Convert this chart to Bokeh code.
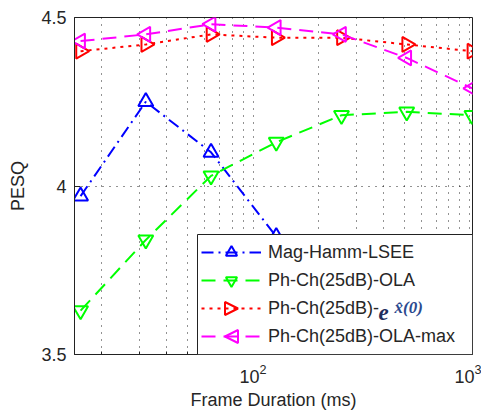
import math
from bokeh.plotting import figure
from bokeh.models import (Range1d, FixedTicker, Legend, LegendItem, Label, Arrow, NormalHead,
                          BoxAnnotation)
from bokeh.embed import file_html
from bokeh.resources import INLINE

# ---- data ----
frame_ms = [16, 32, 64, 128, 256, 512, 1024]
mag_hamm_x = [16, 32, 64, 128]
mag_hamm_lsee = [3.97, 4.25, 4.10, 3.85]
ph_ola = [3.63, 3.84, 4.03, 4.13, 4.21, 4.22, 4.21]
ph_ex0 = [4.40, 4.42, 4.45, 4.44, 4.44, 4.42, 4.40]
ph_ola_max = [4.43, 4.45, 4.48, 4.47, 4.45, 4.38, 4.29]

y_ticks = [3.5, 4.0, 4.5]
y_tick_labels = ["3.5", "4", "4.5"]
x_major_ticks = [100, 1000]
legend_labels = ["Mag-Hamm-LSEE", "Ph-Ch(25dB)-OLA", "Ph-Ch(25dB)- ", "Ph-Ch(25dB)-OLA-max"]

FONT = "Liberation Sans"
TXT = "#262626"

# layout (pixels)
W, H = 481, 412
FL, FT, FR, FB = 74, 17, 472, 354
X0, X1, Y0, Y1 = 15, 1030, 3.5, 4.5

p = figure(width=W, height=H, x_axis_type="log",
           x_range=Range1d(X0, X1), y_range=Range1d(Y0, Y1),
           output_backend="svg", toolbar_location=None,
           min_border_left=FL, min_border_top=FT, min_border_right=W - FR,
           min_border_bottom=H - FB)
p.background_fill_color = "white"
p.border_fill_color = "white"
p.outline_line_color = "#222222"
p.outline_line_width = 1

# axes
x_minor = [m * 10 ** e for e in (1, 2) for m in range(2, 10) if X0 <= m * 10 ** e <= X1]
p.xaxis.ticker = FixedTicker(ticks=x_major_ticks, minor_ticks=x_minor)
p.yaxis.ticker = FixedTicker(ticks=y_ticks, minor_ticks=[])
p.yaxis.major_label_overrides = {t: s for t, s in zip(y_ticks, y_tick_labels)}
for ax in (p.xaxis[0], p.yaxis[0]):
    ax.axis_line_color = "#222222"
    ax.major_tick_in = 6
    ax.major_tick_out = 0
    ax.minor_tick_in = 3
    ax.minor_tick_out = 0
    ax.major_tick_line_color = "#222222"
    ax.minor_tick_line_color = "#222222"
    ax.major_label_text_font = FONT
    ax.major_label_text_font_size = "18px"
    ax.major_label_text_color = TXT
    ax.axis_label_text_font = FONT
    ax.axis_label_text_font_size = "18px"
    ax.axis_label_text_font_style = "normal"
    ax.axis_label_text_color = TXT
p.xaxis.axis_label = "Frame Duration (ms)"
p.yaxis.axis_label = "PESQ"
p.yaxis.major_label_standoff = 8
p.yaxis.axis_label_standoff = 10
p.xaxis.major_label_standoff = 9
p.xaxis.axis_label_standoff = 4

# grid (MATLAB-like dotted)
for g in (p.xgrid[0], p.ygrid[0]):
    g.grid_line_color = "black"
    g.grid_line_dash = "1 6"
    g.grid_line_alpha = 0.85
p.xgrid.minor_grid_line_color = "black"
p.xgrid.minor_grid_line_dash = "1 6"
p.xgrid.minor_grid_line_alpha = 0.85

MS = 15


def series(x, y, color, dash, marker, angle=0.0):
    ln = p.line(x, y, line_color=color, line_width=2, line_dash=dash)
    sc = p.scatter(x, y, marker=marker, size=MS, angle=angle, line_color=color,
                   fill_color=None, line_width=2)
    return ln, sc


b_ln, b_sc = series(mag_hamm_x, mag_hamm_lsee, "#0000ff", "12 5 2 5", "triangle")
g_ln, g_sc = series(frame_ms, ph_ola, "#00ff00", "14 8", "inverted_triangle")
r_ln, r_sc = series(frame_ms, ph_ex0, "#ff0000", "3 5", "triangle", angle=-math.pi / 2)
m_ln, m_sc = series(frame_ms, ph_ola_max, "#ff00ff", "14 8", "triangle", angle=math.pi / 2)

# legend geometry (screen px, relative to the frame's bottom-left corner)
PAD, GW, GH, STAND, LW = 4, 60, 28, 7, 200
FW = FR - FL
LEG_W = 2 * PAD + GW + STAND + LW
LEG_H = 4 * GH + 2 * PAD
leg_left = FW - LEG_W

# white legend box (drawn as an annotation so the extra texts/markers sit on top of it)
p.add_layout(BoxAnnotation(left=leg_left, right=FW, bottom=0, top=LEG_H,
                           left_units="screen", right_units="screen",
                           bottom_units="screen", top_units="screen",
                           fill_color="white", fill_alpha=1.0,
                           line_color="#222222", line_width=1, line_alpha=1.0))

cx = leg_left + PAD + GW / 2
row3 = PAD + GH + GH / 2      # third entry centre (from bottom)
row4 = PAD + GH / 2           # fourth entry centre
TS = 13
p.add_layout(Arrow(x_start=cx - 12, y_start=row3, x_end=cx + TS / 2, y_end=row3,
                   start_units="screen", end_units="screen", line_alpha=0,
                   end=NormalHead(size=TS, line_color="#ff0000", line_width=2, fill_alpha=0)))
p.add_layout(Arrow(x_start=cx + 12, y_start=row4, x_end=cx - TS / 2, y_end=row4,
                   start_units="screen", end_units="screen", line_alpha=0,
                   end=NormalHead(size=TS, line_color="#ff00ff", line_width=2, fill_alpha=0)))

# the e^{x-hat(0)} part of the third legend label
p.add_layout(Label(x=304, y=row3 - 4, x_units="screen", y_units="screen", text="e",
                   text_font="Liberation Serif", text_font_style="bold italic",
                   text_font_size="23px", text_color="#1f2d5c", text_baseline="alphabetic"))
p.add_layout(Label(x=320, y=row3 + 1, x_units="screen", y_units="screen", text="x\u0302(0)",
                   text_font="Liberation Serif", text_font_style="bold italic",
                   text_font_size="17px", text_color="#2b4a8f", text_baseline="alphabetic"))

legend = Legend(items=[LegendItem(label=legend_labels[0], renderers=[b_ln, b_sc]),
                       LegendItem(label=legend_labels[1], renderers=[g_ln, g_sc]),
                       LegendItem(label=legend_labels[2], renderers=[r_ln]),
                       LegendItem(label=legend_labels[3], renderers=[m_ln])],
                location="bottom_right", margin=0, padding=PAD, spacing=0,
                glyph_width=GW, glyph_height=GH, label_standoff=STAND, label_width=LW,
                label_text_font=FONT, label_text_font_size="18px", label_text_color=TXT,
                border_line_alpha=0, background_fill_alpha=0.0)
p.add_layout(legend)

open("out.html", "w").write(file_html(p, INLINE))
